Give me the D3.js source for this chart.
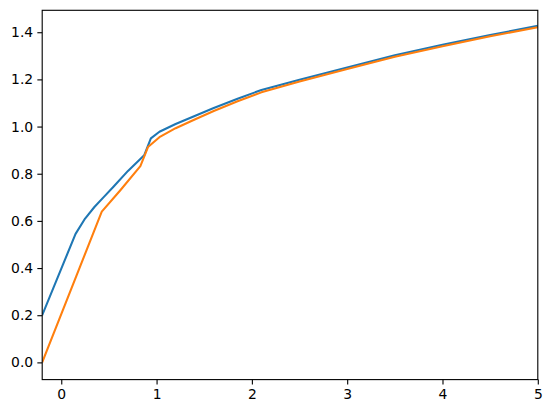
<!DOCTYPE html>
<html>
<head>
<meta charset="utf-8">
<script src="https://cdn.jsdelivr.net/npm/d3@7"></script>
<style>
	body { margin: 0; background: #fff; }
	svg { display: block; }
	.tick text { font-family: "DejaVu Sans", sans-serif; font-size: 13.9px; fill: #000; }
</style>
</head>
<body>
<div id="chart"></div>
<script>
// values
const blueX = [-0.2, 0.15, 0.25, 0.35, 0.45, 0.55, 0.7, 0.87, 0.94, 1.03, 1.2, 1.4, 1.6, 1.85, 2.1, 2.5, 3.0, 3.5, 4.0, 4.5, 5.0];
const blueY = [0.200, 0.545, 0.610, 0.660, 0.703, 0.746, 0.812, 0.878, 0.950, 0.978, 1.011, 1.045, 1.079, 1.118, 1.155, 1.199, 1.250, 1.302, 1.347, 1.388, 1.427];
const orangeX = [-0.2, 0.425, 0.62, 0.83, 0.91, 1.03, 1.2, 1.4, 1.6, 1.85, 2.1, 2.5, 3.0, 3.5, 4.0, 4.5, 5.0];
const orangeY = [0.000, 0.639, 0.730, 0.832, 0.913, 0.955, 0.993, 1.030, 1.066, 1.107, 1.145, 1.191, 1.244, 1.296, 1.341, 1.383, 1.421];
const xTicks = [0, 1, 2, 3, 4, 5];
const yTicks = [0.0, 0.2, 0.4, 0.6, 0.8, 1.0, 1.2, 1.4];

const W = 552, H = 413;
const margin = { top: 10.3, right: 14.2, bottom: 33.4, left: 42.2 };
const width = W - margin.left - margin.right;
const height = H - margin.top - margin.bottom;

const svg = d3.select("#chart")
	.append("svg")
	.attr("width", W)
	.attr("height", H);

const chart = svg.append("g")
	.attr("transform", `translate(${margin.left}, ${margin.top})`);

const xScale = d3.scaleLinear().domain([-0.2, 5]).range([0, width]);
const yScale = d3.scaleLinear().domain([-0.073, 1.493]).range([height, 0]);

chart.append("clipPath")
	.attr("id", "plot-clip")
	.append("rect")
	.attr("width", width)
	.attr("height", height);

const line = d3.line()
	.x((d) => xScale(d[0]))
	.y((d) => yScale(d[1]));

const series = [
	{ color: "#1f77b4", points: blueX.map((x, i) => [x, blueY[i]]) },
	{ color: "#ff7f0e", points: orangeX.map((x, i) => [x, orangeY[i]]) }
];

chart.append("g")
	.attr("clip-path", "url(#plot-clip)")
	.selectAll("path")
	.data(series)
	.enter()
	.append("path")
	.attr("d", (d) => line(d.points))
	.attr("fill", "none")
	.attr("stroke", (d) => d.color)
	.attr("stroke-width", 2.08)
	.attr("stroke-linejoin", "round")
	.attr("stroke-linecap", "butt");

const xAxis = d3.axisBottom(xScale)
	.tickValues(xTicks)
	.tickFormat(d3.format("d"))
	.tickSizeInner(4.86)
	.tickSizeOuter(0)
	.tickPadding(4.2);
const yAxis = d3.axisLeft(yScale)
	.tickValues(yTicks)
	.tickFormat(d3.format(".1f"))
	.tickSizeInner(4.86)
	.tickSizeOuter(0)
	.tickPadding(4.2);

const xg = chart.append("g")
	.attr("transform", `translate(0, ${height})`)
	.call(xAxis);
const yg = chart.append("g").call(yAxis);

[xg, yg].forEach((g) => {
	g.select(".domain").remove();
	g.selectAll(".tick line").attr("stroke", "#000").attr("stroke-width", 1.11);
});

// frame drawn on top of the lines
chart.append("rect")
	.attr("width", width)
	.attr("height", height)
	.attr("fill", "none")
	.attr("stroke", "#000")
	.attr("stroke-width", 1.11);
</script>
</body>
</html>
